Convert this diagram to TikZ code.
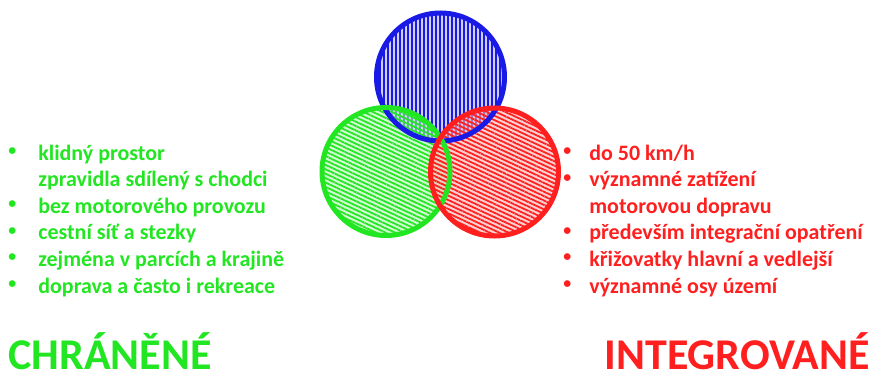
\documentclass[tikz,border=0pt]{standalone}
\usepackage{fontspec}
\setmainfont{Carlito}
\usetikzlibrary{patterns.meta}
\definecolor{zelena}{HTML}{22E622}
\definecolor{cervena}{HTML}{FF1F1F}
\definecolor{modra}{HTML}{1A1AE6}
\newcommand{\tecka}{\raisebox{2.6pt}{\fontsize{9}{9}\selectfont•}}
\newcommand{\bodz}{\llap{\tecka\hspace{0.44cm}}}
\newcommand{\bodc}{\llap{\tecka\hspace{0.36cm}}}
\tikzset{
  venn/.style 2 args={circle,minimum size=2.56cm,inner sep=0pt,
    preaction={fill=#1!35,fill opacity=0.6},
    pattern={Lines[angle=#2,distance=0.8mm,line width=0.35mm]},pattern color=#1},
  obrys/.style={line width=1mm,draw=#1},
  polozka/.style={anchor=base west,inner sep=0pt,font=\fontsize{12.5}{15}\selectfont\bfseries},
  nadpis/.style={inner sep=0pt,font=\fontsize{25}{29}\selectfont\bfseries}
}
\begin{document}
\begin{tikzpicture}
  \useasboundingbox (0,0) rectangle (17.46,7.5);

  % tri kruhy
  \node[venn={modra}{90}] (modry) at (8.81,5.96) {};
  \node[venn={zelena}{-25}] (zeleny) at (7.72,4.07) {};
  \node[venn={cervena}{-25}] (cerveny) at (9.89,4.06) {};
  \draw[obrys=modra] (modry.center) circle[radius=1.28cm];
  \draw[obrys=zelena] (zeleny.center) circle[radius=1.28cm];
  \draw[obrys=cervena] (cerveny.center) circle[radius=1.28cm];

  % seznamy
  \foreach \t [count=\i] in {{\bodz klidný prostor},zpravidla sdílený s chodci,
      {\bodz bez motorového provozu},{\bodz cestní síť a stezky},
      {\bodz zejména v parcích a krajině},{\bodz doprava a často i rekreace}}
    \node[polozka,text=zelena] (z\i) at (0.76,{4.30-0.532*(\i-1)}) {\t};
  \foreach \t [count=\i] in {{\bodc do 50 km/h},{\bodc významné zatížení},
      motorovou dopravu,{\bodc především integrační opatření},
      {\bodc křižovatky hlavní a vedlejší},{\bodc významné osy území}}
    \node[polozka,text=cervena] (c\i) at (11.78,{4.30-0.532*(\i-1)}) {\t};

  % nadpisy
  \node[nadpis,text=zelena,anchor=base west] (chranene) at (0.16,0.12) {CHRÁNĚNÉ};
  \node[nadpis,text=cervena,anchor=base east] (integrovane) at (17.40,0.12) {INTEGROVANÉ};
\end{tikzpicture}
\end{document}
